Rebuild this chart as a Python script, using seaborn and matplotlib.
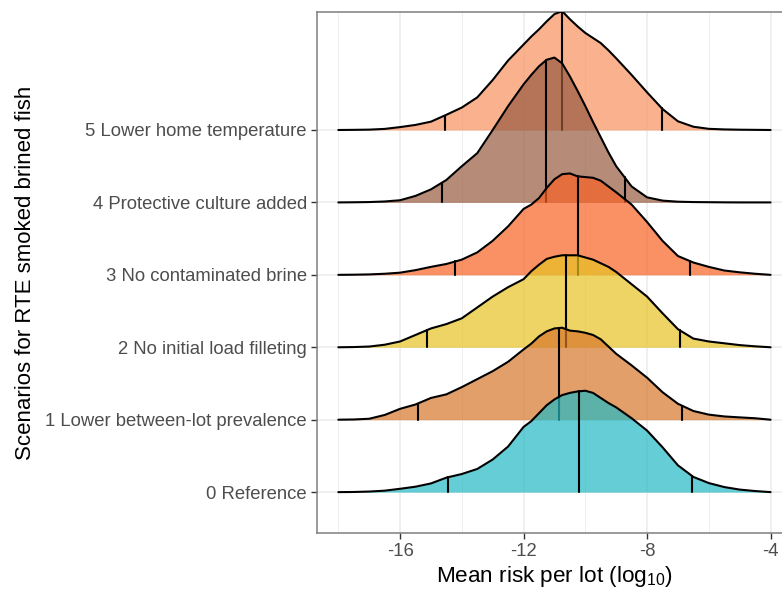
"""Ridgeline plot of mean risk per lot for the RTE smoked brined fish scenarios."""

import matplotlib

matplotlib.use("Agg")
import matplotlib.pyplot as plt
import numpy as np
import seaborn as sns

OUTPUT_PATH = "out.png"

SCENARIOS = [
    "0 Reference",
    "1 Lower between-lot prevalence",
    "2 No initial load filleting",
    "3 No contaminated brine",
    "4 Protective culture added",
    "5 Lower home temperature",
]

# Apparent fill colours (drawn with alpha over white).
FILL_COLORS = ["#24B9C4", "#D6772A", "#E7C222", "#F86224", "#985B41", "#F9915E"]
FILL_ALPHA = 0.7

GRID = [
    -18, -17.5, -17, -16.5, -16, -15.5, -15, -14.5, -14, -13.5, -13, -12.5,
    -12, -11.75, -11.5, -11.25, -11, -10.75, -10.5, -10.25, -10, -9.75, -9.5, -9.25, -9,
    -8.5, -8, -7.5, -7, -6.5, -6, -5.5, -5, -4.5, -4,
]

# Ridge heights, in units of the spacing between scenario rows.
DENSITY_0 = [
    0, 0.002, 0.008, 0.02, 0.046, 0.075, 0.12, 0.20, 0.25, 0.32, 0.45, 0.63,
    0.90, 0.98, 1.09, 1.20, 1.28, 1.34, 1.37, 1.39, 1.40, 1.37, 1.30, 1.23, 1.17,
    1.02, 0.85, 0.62, 0.37, 0.21, 0.125, 0.07, 0.035, 0.015, 0,
]
DENSITY_1 = [
    0, 0.003, 0.013, 0.065, 0.15, 0.21, 0.30, 0.35, 0.45, 0.56, 0.67, 0.80,
    0.97, 1.05, 1.15, 1.22, 1.26, 1.27, 1.23, 1.22, 1.20, 1.17, 1.11, 1.01, 0.91,
    0.75, 0.58, 0.38, 0.22, 0.12, 0.07, 0.045, 0.032, 0.02, 0,
]
DENSITY_2 = [
    0, 0.003, 0.01, 0.035, 0.08, 0.17, 0.26, 0.32, 0.40, 0.55, 0.70, 0.83,
    0.94, 1.05, 1.14, 1.22, 1.25, 1.27, 1.27, 1.27, 1.24, 1.21, 1.16, 1.11, 1.04,
    0.87, 0.70, 0.47, 0.25, 0.12, 0.08, 0.055, 0.03, 0.013, 0,
]
DENSITY_3 = [
    0, 0.002, 0.006, 0.015, 0.03, 0.065, 0.11, 0.15, 0.21, 0.31, 0.47, 0.67,
    0.91, 0.97, 1.06, 1.20, 1.32, 1.39, 1.40, 1.36, 1.35, 1.34, 1.30, 1.22, 1.14,
    0.97, 0.73, 0.47, 0.26, 0.17, 0.11, 0.06, 0.035, 0.015, 0,
]
DENSITY_4 = [
    0, 0.002, 0.005, 0.013, 0.03, 0.09, 0.18, 0.31, 0.50, 0.68, 1.00, 1.33,
    1.63, 1.76, 1.88, 1.97, 2.00, 1.92, 1.74, 1.54, 1.33, 1.11, 0.90, 0.69, 0.50,
    0.22, 0.07, 0.025, 0.01, 0.005, 0.003, 0.001, 0, 0, 0,
]
DENSITY_5 = [
    0, 0.002, 0.005, 0.015, 0.04, 0.07, 0.115, 0.21, 0.31, 0.45, 0.69, 0.96,
    1.18, 1.29, 1.39, 1.50, 1.60, 1.64, 1.53, 1.43, 1.34, 1.27, 1.20, 1.10, 0.99,
    0.76, 0.52, 0.29, 0.12, 0.045, 0.016, 0.008, 0.004, 0.002, 0,
]
DENSITIES = [DENSITY_0, DENSITY_1, DENSITY_2, DENSITY_3, DENSITY_4, DENSITY_5]

# Quantile lines (2.5 %, median, 97.5 %) per scenario.
Q_LOW = [-14.44, -15.43, -15.13, -14.21, -14.64, -14.56]
Q_MEDIAN = [-10.20, -10.86, -10.62, -10.23, -11.27, -10.76]
Q_HIGH = [-6.53, -6.86, -6.93, -6.60, -8.73, -7.52]

X_MAJOR = [-16, -12, -8, -4]
X_MINOR = [-18, -14, -10, -6]

sns.set_theme(style="white")
plt.rcParams["font.family"] = ["Liberation Sans", "DejaVu Sans"]
plt.rcParams["axes.unicode_minus"] = False
plt.rcParams["mathtext.default"] = "regular"


def draw_ridge(ax, row, order):
    """Fill one density ridge, outline it and add its quantile lines."""
    heights = np.asarray(DENSITIES[row])
    z = 3 + order
    ax.fill_between(GRID, row, row + heights, color=FILL_COLORS[row],
                    alpha=FILL_ALPHA, linewidth=0, zorder=z)
    sns.lineplot(x=GRID, y=row + heights, color="black", linewidth=1.5,
                 estimator=None, sort=False, ax=ax, zorder=z)
    for q in (Q_LOW[row], Q_MEDIAN[row], Q_HIGH[row]):
        top = row + np.interp(q, GRID, heights)
        ax.plot([q, q], [row, top], color="black", linewidth=1.5, zorder=z)


def main() -> None:
    fig = plt.figure(figsize=(7.82, 5.97), dpi=100)
    ax = fig.add_axes([0.405, 0.107, 0.608, 0.873])

    # Top scenario first so lower ridges overlap it, like ggridges.
    for order, row in enumerate(reversed(range(len(SCENARIOS)))):
        draw_ridge(ax, row, order)

    ax.set_xlim(-18.7, -3.3)
    ax.set_ylim(-0.566, 6.63)

    ax.set_xticks(X_MAJOR)
    ax.set_xticklabels([str(v) for v in X_MAJOR])
    ax.set_xticks(X_MINOR, minor=True)
    ax.set_yticks(range(len(SCENARIOS)))
    ax.set_yticklabels(SCENARIOS)

    ax.set_axisbelow(True)
    ax.grid(True, which="major", color="#EBEBEB", linewidth=1.1)
    ax.grid(True, which="minor", axis="x", color="#EBEBEB", linewidth=0.6)
    ax.tick_params(axis="both", which="major", length=4, width=1, color="#333333",
                   labelsize=13.3, labelcolor="#4D4D4D", pad=3, left=True, bottom=True)
    ax.tick_params(axis="x", which="minor", length=0)

    for spine in ax.spines.values():
        spine.set_color("#7F7F7F")
        spine.set_linewidth(1.1)

    ax.set_xlabel("Mean risk per lot (log$_{10}$)", fontsize=16.2, color="black", labelpad=3)
    ax.set_ylabel("Scenarios for RTE smoked brined fish", fontsize=16, color="black", labelpad=7)

    fig.savefig(OUTPUT_PATH, dpi=100)
    plt.close(fig)


if __name__ == "__main__":
    main()
